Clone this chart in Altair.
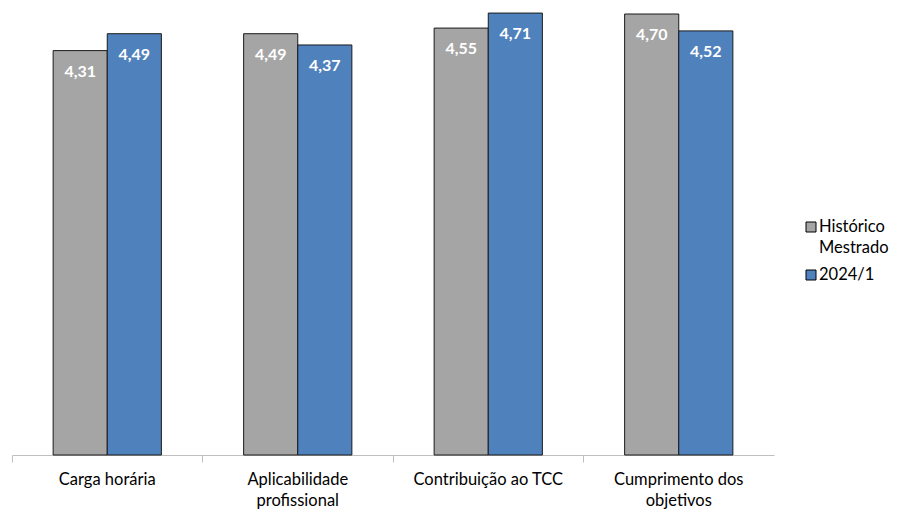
import altair as alt
import pandas as pd

categories = ["Carga horária", "Aplicabilidade|profissional", "Contribuição ao TCC", "Cumprimento dos|objetivos"]
series = ["Histórico|Mestrado", "2024/1"]
historico = [4.31, 4.49, 4.55, 4.70]
atual = [4.49, 4.37, 4.71, 4.52]
colors = ["#A5A5A5", "#4F81BD"]

rows = []
for i, c in enumerate(categories):
    rows.append({"cat": c, "serie": series[0], "v": historico[i], "lab": f"{historico[i]:.2f}".replace(".", ",")})
    rows.append({"cat": c, "serie": series[1], "v": atual[i], "lab": f"{atual[i]:.2f}".replace(".", ",")})
df = pd.DataFrame(rows)

FONT = "Lato"

x = alt.X("cat:N", sort=categories, title=None,
          scale=alt.Scale(paddingInner=0, paddingOuter=0),
          axis=alt.Axis(labelAngle=0, labelExpr="split(datum.label, '|')", bandPosition=0,
                        domainColor="#BFBFBF", tickColor="#BFBFBF", tickSize=7,
                        labelFont=FONT, labelFontSize=16.5, labelColor="#000000",
                        labelPadding=9, labelLineHeight=21, grid=False, labelBaseline="top"))
y = alt.Y("v:Q", title=None, scale=alt.Scale(domain=[0, 4.764], nice=False, zero=True), axis=None)
xo = alt.XOffset("serie:N", sort=series, scale=alt.Scale(paddingOuter=0.76, paddingInner=0))
color = alt.Color("serie:N", sort=series, scale=alt.Scale(domain=series, range=colors), legend=None)

base = alt.Chart(df)
bars = base.mark_bar(stroke="#1a1a1a", strokeWidth=1).encode(x=x, xOffset=xo, y=y, color=color)
text = base.mark_text(color="white", fontWeight="bold", font=FONT, fontSize=16, baseline="middle", dy=21).encode(
    x=x, xOffset=xo, y=y, text="lab:N")

# manual legend (positions are layout only)
leg_y = [219, 267]
legend_layers = []
for s, c, ly in zip(series, colors, leg_y):
    ld = pd.DataFrame({"serie": [s], "lines": [s.split("|")]})
    sq = alt.Chart(ld).mark_square(size=100, fill=c, stroke="#000000", strokeWidth=1, opacity=1).encode(
        x=alt.value(799), y=alt.value(ly))
    tx = alt.Chart(ld).mark_text(align="left", baseline="middle", font=FONT, fontSize=16.5, lineHeight=21,
                                 color="#000000").encode(x=alt.value(807), y=alt.value(ly), text="lines:N")
    legend_layers += [sq, tx]

chart = alt.layer(bars, text, *legend_layers).properties(
    width=762, height=447, background="white",
    padding={"left": 3, "top": 0, "right": 0, "bottom": 0}).configure_view(stroke=None)
chart.save("out.html", embed_options={"renderer": "svg", "actions": False})
